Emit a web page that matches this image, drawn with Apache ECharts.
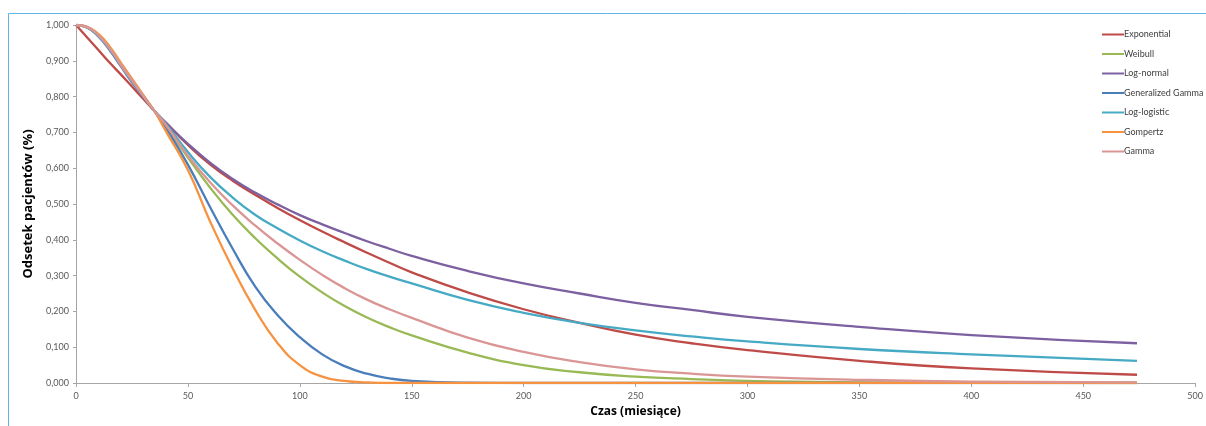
<!DOCTYPE html>
<html>
<head>
<meta charset="utf-8">
<script src="https://cdn.jsdelivr.net/npm/echarts@6/dist/echarts.min.js"></script>
<style>
html,body{margin:0;padding:0;background:#fff;}
#c{width:1206px;height:426px;}
</style>
</head>
<body>
<div id="c"></div>
<script>
const times = [0, 5, 10, 15, 20, 25, 30, 35, 40, 50, 60, 70, 80, 90, 100, 110, 120, 130, 140, 150, 175, 200, 225, 250, 275, 300, 350, 400, 474];

const exponential = [1, 0.965, 0.93, 0.895, 0.862, 0.828, 0.794, 0.76, 0.728, 0.665, 0.61, 0.565, 0.526, 0.489, 0.455, 0.423, 0.393, 0.364, 0.336, 0.309, 0.253, 0.206, 0.168, 0.135, 0.111, 0.092, 0.062, 0.041, 0.023];
const weibull = [1, 0.993, 0.97, 0.935, 0.888, 0.845, 0.802, 0.76, 0.72, 0.63, 0.545, 0.47, 0.405, 0.348, 0.297, 0.253, 0.215, 0.183, 0.156, 0.133, 0.085, 0.05, 0.03, 0.018, 0.011, 0.006, 0.002, 0.0005, 0];
const lognormal = [1, 0.993, 0.968, 0.93, 0.885, 0.84, 0.80, 0.76, 0.728, 0.668, 0.615, 0.57, 0.532, 0.499, 0.469, 0.443, 0.419, 0.396, 0.375, 0.355, 0.313, 0.278, 0.25, 0.224, 0.204, 0.185, 0.157, 0.134, 0.111];
const genGamma = [1, 0.994, 0.972, 0.937, 0.89, 0.846, 0.803, 0.76, 0.715, 0.61, 0.49, 0.375, 0.27, 0.19, 0.128, 0.08, 0.047, 0.026, 0.013, 0.006, 0.001, 0, 0, 0, 0, 0, 0, 0, 0];
const loglogistic = [1, 0.993, 0.969, 0.932, 0.887, 0.842, 0.801, 0.76, 0.725, 0.645, 0.575, 0.518, 0.47, 0.432, 0.398, 0.368, 0.342, 0.318, 0.297, 0.278, 0.232, 0.196, 0.168, 0.147, 0.13, 0.116, 0.095, 0.080, 0.062];
const gompertz = [1, 0.995, 0.975, 0.94, 0.895, 0.85, 0.805, 0.76, 0.705, 0.595, 0.45, 0.32, 0.205, 0.112, 0.05, 0.018, 0.006, 0.0015, 0, 0, 0, 0, 0, 0, 0, 0, 0, 0, 0];
const gamma = [1, 0.994, 0.971, 0.935, 0.889, 0.845, 0.802, 0.76, 0.722, 0.635, 0.56, 0.496, 0.44, 0.39, 0.344, 0.302, 0.265, 0.233, 0.206, 0.182, 0.127, 0.087, 0.058, 0.038, 0.026, 0.018, 0.009, 0.004, 0.002];

const seriesNames = ['Exponential', 'Weibull', 'Log-normal', 'Generalized Gamma', 'Log-logistic', 'Gompertz', 'Gamma'];
const seriesValues = [exponential, weibull, lognormal, genGamma, loglogistic, gompertz, gamma];
const colors = ['#BE4B48', '#98B954', '#7D60A0', '#4A7EBB', '#46AAC5', '#F69240', '#DA9694'];

const chart = echarts.init(document.getElementById('c'));
const tickFont = {fontFamily: 'Lato', fontSize: 9, color: '#595959'};

chart.setOption({
  animation: false,
  backgroundColor: '#fff',
  color: colors,
  graphic: [{
    type: 'rect', silent: true, z: -1,
    shape: {x: 8.5, y: 13.5, width: 1400, height: 600},
    style: {fill: 'none', stroke: '#5FB6E6', lineWidth: 1}
  }],
  grid: {left: 76, right: 9, top: 25, bottom: 43, containLabel: false},
  legend: {
    orient: 'vertical', left: 1097, top: 25,
    itemWidth: 22, itemHeight: 10, itemGap: 10.5,
    icon: 'path://M0,4 L22,4 L22,6 L0,6 Z',
    textStyle: {fontFamily: 'Lato', fontSize: 9, color: '#404040', padding: [0, 0, 0, -5]},
    data: seriesNames
  },
  xAxis: {
    type: 'value', min: 0, max: 500, interval: 50,
    name: 'Czas (miesiące)', nameLocation: 'middle', nameGap: 22,
    nameTextStyle: {fontFamily: 'Open Sans', fontSize: 12, fontWeight: 'bold', color: '#000'},
    axisLine: {show: true, lineStyle: {color: '#A6A6A6', width: 1}},
    axisTick: {show: true, length: 4, lineStyle: {color: '#A6A6A6'}},
    axisLabel: Object.assign({margin: 9}, tickFont),
    splitLine: {show: false}
  },
  yAxis: {
    type: 'value', min: 0, max: 1, interval: 0.1,
    name: 'Odsetek pacjentów (%)', nameLocation: 'middle', nameGap: 34, nameRotate: 90,
    nameTextStyle: {fontFamily: 'Open Sans', fontSize: 13, fontWeight: 'bold', color: '#000'},
    axisLine: {show: true, lineStyle: {color: '#A6A6A6', width: 1}},
    axisTick: {show: true, length: 3, lineStyle: {color: '#A6A6A6'}},
    axisLabel: Object.assign({margin: 7, formatter: v => v.toFixed(3).replace('.', ',')}, tickFont),
    splitLine: {show: false}
  },
  series: seriesNames.map((n, i) => ({
    name: n, type: 'line', smooth: 0.5, showSymbol: false, symbol: 'none',
    lineStyle: {width: 2.3, color: colors[i]},
    data: times.map((t, j) => [t, seriesValues[i][j]])
  }))
});
</script>
</body>
</html>
